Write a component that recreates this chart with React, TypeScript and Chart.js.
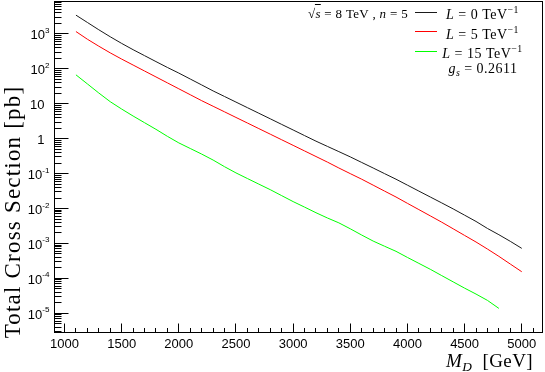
import React, { useEffect, useRef } from 'react';
import { Chart, registerables } from 'chart.js';

Chart.register(...registerables);

// M_D [GeV]
const massGeV = [
  1100, 1200, 1300, 1400, 1500, 1600, 1700, 1800, 1900, 2000,
  2100, 2200, 2300, 2400, 2500, 2600, 2700, 2800, 2900, 3000,
  3100, 3200, 3300, 3400, 3500, 3600, 3700, 3800, 3900, 4000,
  4100, 4200, 4300, 4400, 4500, 4600, 4700, 4800, 4900, 5000,
];

// Total cross section [pb], L = 0 TeV^-1
const xsecL0 = [
  3470, 2140, 1320, 832, 537, 355, 240, 162, 110, 75.9,
  51.3, 34.7, 23.4, 16.2, 11.2, 7.76, 5.37, 3.72, 2.57, 1.78,
  1.23, 0.851, 0.603, 0.427, 0.302, 0.209, 0.145, 0.1, 0.0692, 0.0468,
  0.0316, 0.0214, 0.0145, 0.00977, 0.00646, 0.00427, 0.00269, 0.00178, 0.00115, 0.000724,
];

// L = 5 TeV^-1
const xsecL5 = [
  1175, 708, 447, 288, 191, 129, 87.1, 58.9, 39.8, 26.9,
  18.2, 12.3, 8.51, 5.89, 4.07, 2.82, 1.95, 1.35, 0.933, 0.646,
  0.447, 0.309, 0.214, 0.145, 0.1, 0.0692, 0.0468, 0.0316, 0.0214, 0.0141,
  0.00933, 0.00617, 0.00407, 0.00263, 0.0017, 0.0011, 0.000692, 0.000427, 0.000257, 0.000155,
];

// L = 15 TeV^-1 (ends at 4800 GeV)
const xsecL15 = [
  67.6, 37.2, 20.4, 11.5, 7.08, 4.47, 2.88, 1.86, 1.17, 0.759,
  0.525, 0.363, 0.245, 0.158, 0.105, 0.0724, 0.0501, 0.0347, 0.0234, 0.0158,
  0.011, 0.00759, 0.00537, 0.00389, 0.00263, 0.00174, 0.00117, 0.000832, 0.000595, 0.000398,
  0.000269, 0.000182, 0.00012, 0.0000794, 0.0000525, 0.0000355, 0.0000234, 0.0000138,
];

const xTickLabels = [1000, 1500, 2000, 2500, 3000, 3500, 4000, 4500, 5000];
const yDecadeExponents = [-5, -4, -3, -2, -1, 0, 1, 2, 3];

const seriesLabels = ['L = 0 TeV⁻¹', 'L = 5 TeV⁻¹', 'L = 15 TeV⁻¹'];
const seriesColors = ['#1a1a1a', '#ff0000', '#00ff00'];

const X_MIN = 908;
const X_MAX = 5186;
const Y_MIN = Math.pow(10, -5.565);
const Y_MAX = Math.pow(10, 3.945);

const SANS = '"Liberation Sans", Arial, Helvetica, sans-serif';
const SERIF = '"Liberation Serif", "Times New Roman", serif';

type Seg = { t: string; italic?: boolean; scale?: number; dy?: number };

function drawSegs(
  ctx: CanvasRenderingContext2D,
  segs: Seg[],
  x: number,
  y: number,
  size: number,
  family: string,
  align: 'left' | 'right' | 'center',
  spacing = 0,
) {
  const fontFor = (s: Seg) =>
    `${s.italic ? 'italic ' : ''}${(size * (s.scale ?? 1)).toFixed(1)}px ${family}`;
  const widths: number[] = [];
  let total = 0;
  (ctx as any).letterSpacing = `${spacing}px`;
  for (const s of segs) {
    ctx.font = fontFor(s);
    const w = ctx.measureText(s.t).width;
    widths.push(w);
    total += w;
  }
  let cx = align === 'right' ? x - total : align === 'center' ? x - total / 2 : x;
  const starts: number[] = [];
  ctx.textAlign = 'left';
  segs.forEach((s, i) => {
    ctx.font = fontFor(s);
    starts.push(cx);
    ctx.fillText(s.t, cx, y + (s.dy ?? 0));
    cx += widths[i];
  });
  (ctx as any).letterSpacing = '0px';
  return { starts, widths };
}

const decorPlugin = {
  id: 'rootDecor',
  afterDraw(chart: any) {
    const { ctx, chartArea: a, scales } = chart;
    const xs = scales.x;
    const ys = scales.y;
    ctx.save();
    ctx.strokeStyle = '#000';
    ctx.fillStyle = '#000';
    ctx.lineWidth = 1;

    const L = Math.round(a.left) + 0.5;
    const R = Math.round(a.right) - 0.5;
    const T = Math.round(a.top) + 0.5;
    const B = Math.round(a.bottom) - 0.5;
    ctx.strokeRect(L, T, R - L, B - T);

    // y ticks (major decades + minor 2..9)
    ctx.beginPath();
    for (let n = -6; n <= 4; n++) {
      for (let k = 1; k <= 9; k++) {
        const v = k * Math.pow(10, n);
        if (v < Y_MIN || v > Y_MAX) continue;
        const yy = Math.floor(ys.getPixelForValue(v)) + 0.5;
        const len = k === 1 ? 14 : 7;
        ctx.moveTo(L, yy);
        ctx.lineTo(L + len, yy);
      }
    }
    // x ticks every 100, majors every 500
    for (let v = 900; v <= 5200; v += 100) {
      if (v < X_MIN || v > X_MAX) continue;
      const xx = Math.floor(xs.getPixelForValue(v)) + 0.5;
      const len = v % 500 === 0 ? 9 : 4.5;
      ctx.moveTo(xx, B);
      ctx.lineTo(xx, B - len);
    }
    ctx.stroke();

    // x tick labels
    ctx.textBaseline = 'alphabetic';
    ctx.textAlign = 'center';
    ctx.font = `13px ${SANS}`;
    for (const v of xTickLabels) {
      ctx.fillText(String(v), xs.getPixelForValue(v), 348);
    }

    // y tick labels
    for (const n of yDecadeExponents) {
      const yy = ys.getPixelForValue(Math.pow(10, n));
      if (n === 0 || n === 1) {
        drawSegs(ctx, [{ t: n === 0 ? '1' : '10' }], 44.5, yy + 5.5, 13, SANS, 'right');
      } else {
        drawSegs(
          ctx,
          [{ t: '10' }, { t: n < 0 ? `-${-n}` : `${n}`, scale: 0.62, dy: -6.5 }],
          49.5,
          yy + 5.5,
          13,
          SANS,
          'right',
        );
      }
    }

    // axis titles
    ctx.save();
    ctx.translate(19.5, 212);
    ctx.rotate(-Math.PI / 2);
    ctx.textBaseline = 'alphabetic';
    drawSegs(ctx, [{ t: 'Total Cross Section [pb]' }], 0, 0, 23, SERIF, 'center', 1.2);
    ctx.restore();

    drawSegs(
      ctx,
      [{ t: 'M', italic: true }, { t: 'D', italic: true, scale: 0.7, dy: 3.5 }, { t: '  [GeV]' }],
      533,
      367,
      19,
      SERIF,
      'right',
      0.4,
    );

    // legend / annotation block
    const r = drawSegs(
      ctx,
      [
        { t: '√' },
        { t: 's', italic: true },
        { t: ' = 8 TeV , ' },
        { t: 'n', italic: true },
        { t: ' = 5' },
      ],
      308,
      17.5,
      13,
      SERIF,
      'left',
      0.3,
    );
    ctx.beginPath();
    ctx.moveTo(r.starts[1] - 0.5, 4.5);
    ctx.lineTo(r.starts[1] + r.widths[1], 4.5);
    ctx.stroke();

    const rowY = [12.5, 31.5, 51.5];
    const rowBase = [19, 38.5, 58];
    const legendTexts: Seg[][] = [
      [{ t: 'L', italic: true }, { t: ' = 0 TeV' }, { t: '−1', scale: 0.7, dy: -6 }],
      [{ t: 'L', italic: true }, { t: ' = 5 TeV' }, { t: '−1', scale: 0.7, dy: -6 }],
      [{ t: 'L', italic: true }, { t: ' = 15 TeV' }, { t: '−1', scale: 0.7, dy: -6 }],
    ];
    for (let i = 0; i < 3; i++) {
      ctx.strokeStyle = seriesColors[i];
      ctx.beginPath();
      ctx.moveTo(415, rowY[i]);
      ctx.lineTo(437, rowY[i]);
      ctx.stroke();
      ctx.fillStyle = '#000';
      drawSegs(ctx, legendTexts[i], 482.5, rowBase[i], 14, SERIF, 'center', 0.5);
    }
    drawSegs(
      ctx,
      [{ t: 'g', italic: true }, { t: 's', italic: true, scale: 0.7, dy: 3 }, { t: ' = 0.2611' }],
      483,
      72.5,
      14,
      SERIF,
      'center',
      0.5,
    );
    ctx.restore();
  },
};

export default function App() {
  const canvasRef = useRef<HTMLCanvasElement | null>(null);

  useEffect(() => {
    if (!canvasRef.current) return;
    const mk = (ys: number[]) => ys.map((y, i) => ({ x: massGeV[i], y }));
    const chart = new Chart(canvasRef.current, {
      type: 'line',
      data: {
        datasets: [
          { label: seriesLabels[0], data: mk(xsecL0), borderColor: seriesColors[0] },
          { label: seriesLabels[1], data: mk(xsecL5), borderColor: seriesColors[1] },
          { label: seriesLabels[2], data: mk(xsecL15), borderColor: seriesColors[2] },
        ],
      },
      options: {
        animation: false,
        responsive: false,
        devicePixelRatio: 1,
        layout: { padding: { top: 1, right: 2, left: 0, bottom: 0 } },
        elements: {
          point: { radius: 0, hoverRadius: 0 },
          line: { borderWidth: 1, tension: 0, fill: false },
        },
        plugins: {
          legend: { display: false },
          tooltip: { enabled: false },
          title: { display: false },
        },
        events: [],
        scales: {
          x: {
            type: 'linear',
            min: X_MIN,
            max: X_MAX,
            grid: { display: false },
            border: { display: false },
            ticks: { display: false },
            afterFit: (s: any) => {
              s.height = 39;
            },
          },
          y: {
            type: 'logarithmic',
            min: Y_MIN,
            max: Y_MAX,
            grid: { display: false },
            border: { display: false },
            ticks: { display: false },
            afterFit: (s: any) => {
              s.width = 54;
            },
          },
        },
      },
      plugins: [decorPlugin],
    } as any);
    return () => chart.destroy();
  }, []);

  return (
    <div style={{ position: 'fixed', left: 0, top: 0, width: 545, height: 372, background: '#fff' }}>
      <canvas ref={canvasRef} width={545} height={372} style={{ display: 'block' }} />
    </div>
  );
}
